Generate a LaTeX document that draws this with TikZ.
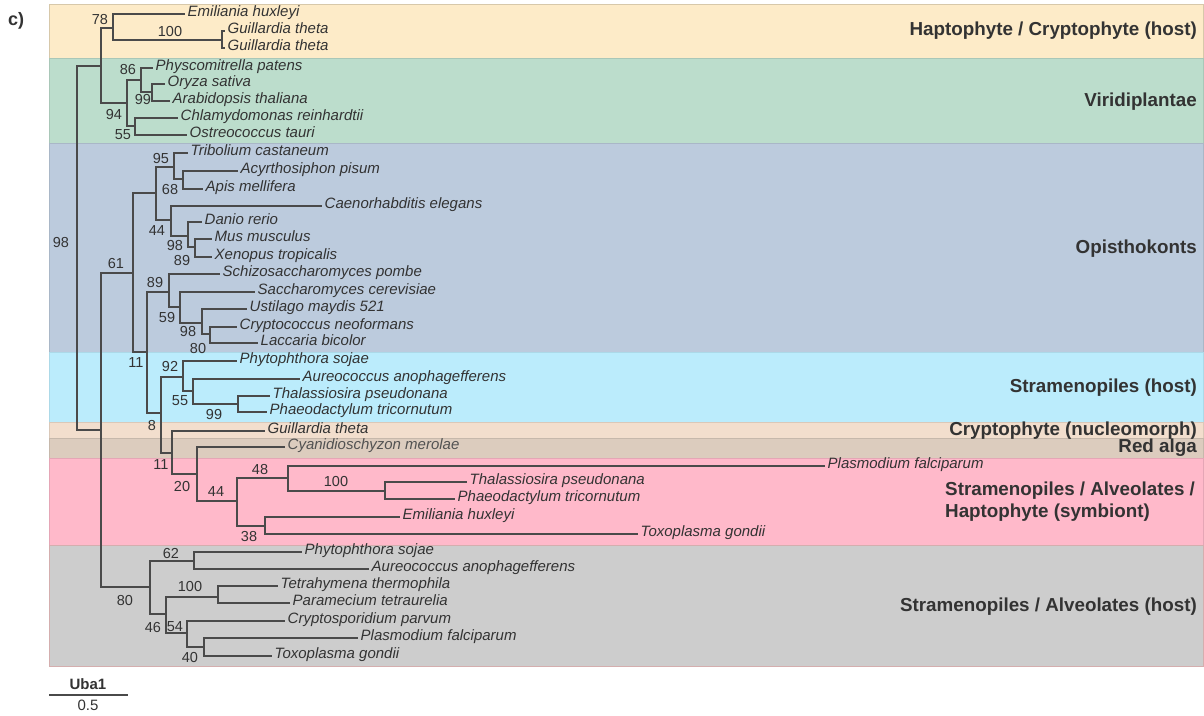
\documentclass[tikz,border=0pt]{standalone}
\usepackage{fontspec}
\setmainfont{Liberation Sans}
\definecolor{treecol}{HTML}{4A4A4A}
\definecolor{txt}{HTML}{333333}
\definecolor{cHapto}{HTML}{FDEBC8}
\definecolor{cViri}{HTML}{BCDDCC}
\definecolor{cOpis}{HTML}{BCCBDD}
\definecolor{cStram}{HTML}{BBECFC}
\definecolor{cCrypt}{HTML}{F2DECD}
\definecolor{cRed}{HTML}{DCCCBE}
\definecolor{cSymb}{HTML}{FFB9CA}
\definecolor{cHost}{HTML}{CDCDCD}
\tikzset{
  br/.style={draw=treecol, line width=1.4pt},
  leaf/.style={font=\itshape\fontsize{15}{15}\selectfont, text=txt, anchor=mid west, inner xsep=2.5pt, inner ysep=0pt},
  bs/.style={font=\fontsize{14.5}{15}\selectfont, text=txt, inner sep=0pt},
  grp/.style={font=\bfseries\fontsize{18.8}{20}\selectfont, text=txt, inner sep=0pt, anchor=base east},
  band/.style={line width=0.8pt}
}
\begin{document}
\begin{tikzpicture}[x=1pt,y=-1pt]
\useasboundingbox[fill=white] (0,0) rectangle (1204,715);
% bands
\fill[cHapto, draw=cHapto!85!black, band] (49,4) rectangle (1203,58);
\fill[cViri, draw=cViri!90!black, band] (49,58) rectangle (1203,143);
\fill[cOpis, draw=cOpis!90!black, band] (49,143) rectangle (1203,352);
\fill[cStram, draw=cStram!92!black, band] (49,352) rectangle (1203,422);
\fill[cCrypt, draw=cCrypt!90!black, band] (49,422) rectangle (1203,438);
\fill[cRed, draw=cRed!90!black, band] (49,438) rectangle (1203,458);
\fill[cSymb, draw=cSymb!90!black, band] (49,458) rectangle (1203,545);
\fill[cHost, draw=cHost!85!red, band] (49,545) rectangle (1203,666);
% group labels
\node[grp] (g1) at (1197,35.5) {Haptophyte / Cryptophyte (host)};
\node[grp] (g2) at (1197,106) {Viridiplantae};
\node[grp] (g3) at (1197,253) {Opisthokonts};
\node[grp] (g4) at (1197,392) {Stramenopiles (host)};
\node[grp] (g5) at (1197,435) {Cryptophyte (nucleomorph)};
\node[grp] (g6) at (1197,452) {Red alga};
\node[grp, anchor=base west] (g7) at (945,495) {Stramenopiles / Alveolates /};
\node[grp, anchor=base west] (g8) at (945,517) {Haptophyte (symbiont)};
\node[grp] (g9) at (1197,611) {Stramenopiles / Alveolates (host)};
\node[font=\bfseries\fontsize{18}{18}\selectfont, text=txt, anchor=base west, inner sep=0pt] (lbl) at (8,25) {c)};
% internal nodes
\coordinate (R) at (77,248);
\coordinate (A) at (101,66);
\coordinate (B) at (101,430);
\coordinate (n78) at (113,28);
\coordinate (n100a) at (222,40);
\coordinate (n94) at (127,103);
\coordinate (n86) at (141,80);
\coordinate (n99a) at (152,92);
\coordinate (n55a) at (135,126);
\coordinate (n61) at (133,273);
\coordinate (n44a) at (156,193);
\coordinate (n95) at (174,167);
\coordinate (n68) at (183,179);
\coordinate (n44b) at (171,220);
\coordinate (n98a) at (188,236);
\coordinate (n89a) at (195,247);
\coordinate (n11a) at (147,352);
\coordinate (n89b) at (169,292);
\coordinate (n59) at (180,307);
\coordinate (n98b) at (202,323);
\coordinate (n80a) at (210,334);
\coordinate (n8) at (161,413);
\coordinate (n92) at (183,377);
\coordinate (n55b) at (193,391);
\coordinate (n99b) at (238,404);
\coordinate (n11b) at (172,453);
\coordinate (n20) at (197,474);
\coordinate (n44c) at (237,501);
\coordinate (n48) at (288,478);
\coordinate (n100b) at (385,491);
\coordinate (n38) at (265,526);
\coordinate (n80) at (150,587);
\coordinate (n62) at (194,561);
\coordinate (n46) at (166,614);
\coordinate (n100c) at (218,597);
\coordinate (n54) at (187,633);
\coordinate (n40) at (204,647);
% leaves
\node[leaf] (l1) at (185,14) {Emiliania huxleyi};
\node[leaf] (l2) at (225,31) {Guillardia theta};
\node[leaf] (l3) at (225,48) {Guillardia theta};
\node[leaf] (l4) at (153,68) {Physcomitrella patens};
\node[leaf] (l5) at (165,84) {Oryza sativa};
\node[leaf] (l6) at (170,101) {Arabidopsis thaliana};
\node[leaf] (l7) at (178,118) {Chlamydomonas reinhardtii};
\node[leaf] (l8) at (187,135) {Ostreococcus tauri};
\node[leaf] (l9) at (188,153) {Tribolium castaneum};
\node[leaf] (l10) at (238,171) {Acyrthosiphon pisum};
\node[leaf] (l11) at (203,189) {Apis mellifera};
\node[leaf] (l12) at (322,206) {Caenorhabditis elegans};
\node[leaf] (l13) at (202,222) {Danio rerio};
\node[leaf] (l14) at (212,239) {Mus musculus};
\node[leaf] (l15) at (212,257) {Xenopus tropicalis};
\node[leaf] (l16) at (220,274) {Schizosaccharomyces pombe};
\node[leaf] (l17) at (255,292) {Saccharomyces cerevisiae};
\node[leaf] (l18) at (247,309) {Ustilago maydis 521};
\node[leaf] (l19) at (237,327) {Cryptococcus neoformans};
\node[leaf] (l20) at (258,343) {Laccaria bicolor};
\node[leaf] (l21) at (237,361) {Phytophthora sojae};
\node[leaf] (l22) at (300,379) {Aureococcus anophagefferens};
\node[leaf] (l23) at (270,396) {Thalassiosira pseudonana};
\node[leaf] (l24) at (267,412) {Phaeodactylum tricornutum};
\node[leaf] (l25) at (265,431) {Guillardia theta};
\node[leaf, text=txt!85] (l26) at (285,447) {Cyanidioschyzon merolae};
\node[leaf] (l27) at (825,466) {Plasmodium falciparum};
\node[leaf] (l28) at (467,482) {Thalassiosira pseudonana};
\node[leaf] (l29) at (455,499) {Phaeodactylum tricornutum};
\node[leaf] (l30) at (400,517) {Emiliania huxleyi};
\node[leaf] (l31) at (638,534) {Toxoplasma gondii};
\node[leaf] (l32) at (302,552) {Phytophthora sojae};
\node[leaf] (l33) at (369,569) {Aureococcus anophagefferens};
\node[leaf] (l34) at (278,586) {Tetrahymena thermophila};
\node[leaf] (l35) at (290,603) {Paramecium tetraurelia};
\node[leaf] (l36) at (285,621) {Cryptosporidium parvum};
\node[leaf] (l37) at (358,638) {Plasmodium falciparum};
\node[leaf] (l38) at (272,656) {Toxoplasma gondii};
% branches
\draw[br] (R) |- (A);  \draw[br] (R) |- (B);
\draw[br] (A) |- (n78); \draw[br] (A) |- (n94);
\draw[br] (n78) |- (l1.mid west); \draw[br] (n78) |- (n100a);
\draw[br] (n100a) |- (l2.mid west); \draw[br] (n100a) |- (l3.mid west);
\draw[br] (n94) |- (n86); \draw[br] (n94) |- (n55a);
\draw[br] (n86) |- (l4.mid west); \draw[br] (n86) |- (n99a);
\draw[br] (n99a) |- (l5.mid west); \draw[br] (n99a) |- (l6.mid west);
\draw[br] (n55a) |- (l7.mid west); \draw[br] (n55a) |- (l8.mid west);
\draw[br] (B) |- (n61); \draw[br] (B) |- (n80);
\draw[br] (n61) |- (n44a); \draw[br] (n61) |- (n11a);
\draw[br] (n44a) |- (n95); \draw[br] (n44a) |- (n44b);
\draw[br] (n95) |- (l9.mid west); \draw[br] (n95) |- (n68);
\draw[br] (n68) |- (l10.mid west); \draw[br] (n68) |- (l11.mid west);
\draw[br, line width=2.6pt] (n68 |- l10.mid west) -- (l10.mid west);
\draw[br] (n44b) |- (l12.mid west); \draw[br] (n44b) |- (n98a);
\draw[br] (n98a) |- (l13.mid west); \draw[br] (n98a) |- (n89a);
\draw[br] (n89a) |- (l14.mid west); \draw[br] (n89a) |- (l15.mid west);
\draw[br] (n11a) |- (n89b); \draw[br] (n11a) |- (n8);
\draw[br] (n89b) |- (l16.mid west); \draw[br] (n89b) |- (n59);
\draw[br] (n59) |- (l17.mid west); \draw[br] (n59) |- (n98b);
\draw[br] (n98b) |- (l18.mid west); \draw[br] (n98b) |- (n80a);
\draw[br] (n80a) |- (l19.mid west); \draw[br] (n80a) |- (l20.mid west);
\draw[br] (n8) |- (n92); \draw[br] (n8) |- (n11b);
\draw[br] (n92) |- (l21.mid west); \draw[br] (n92) |- (n55b);
\draw[br] (n55b) |- (l22.mid west); \draw[br] (n55b) |- (n99b);
\draw[br] (n99b) |- (l23.mid west); \draw[br] (n99b) |- (l24.mid west);
\draw[br] (n11b) |- (l25.mid west); \draw[br] (n11b) |- (n20);
\draw[br] (n20) |- (l26.mid west); \draw[br] (n20) |- (n44c);
\draw[br] (n44c) |- (n48); \draw[br] (n44c) |- (n38);
\draw[br] (n48) |- (l27.mid west); \draw[br] (n48) |- (n100b);
\draw[br] (n100b) |- (l28.mid west); \draw[br] (n100b) |- (l29.mid west);
\draw[br] (n38) |- (l30.mid west); \draw[br] (n38) |- (l31.mid west);
\draw[br] (n80) |- (n62); \draw[br] (n80) |- (n46);
\draw[br] (n62) |- (l32.mid west); \draw[br] (n62) |- (l33.mid west);
\draw[br] (n46) |- (n100c); \draw[br] (n46) |- (n54);
\draw[br] (n100c) |- (l34.mid west); \draw[br] (n100c) |- (l35.mid west);
\draw[br] (n54) |- (l36.mid west); \draw[br] (n54) |- (n40);
\draw[br] (n40) |- (l37.mid west); \draw[br] (n40) |- (l38.mid west);
% bootstrap values
\node[bs] (b1) at (100,20) {78};
\node[bs] (b2) at (170,32) {100};
\node[bs] (b3) at (128,70) {86};
\node[bs] (b4) at (143,100) {99};
\node[bs] (b5) at (114,115) {94};
\node[bs] (b6) at (123,135) {55};
\node[bs] (b7) at (61,243) {98};
\node[bs] (b8) at (161,159) {95};
\node[bs] (b9) at (170,190) {68};
\node[bs] (b10) at (157,231) {44};
\node[bs] (b11) at (175,246) {98};
\node[bs] (b12) at (182,261) {89};
\node[bs] (b13) at (116,264) {61};
\node[bs] (b14) at (155,283) {89};
\node[bs] (b15) at (167,318) {59};
\node[bs] (b16) at (188,332) {98};
\node[bs] (b17) at (198,349) {80};
\node[bs] (b18) at (136,363) {11};
\node[bs] (b19) at (170,367) {92};
\node[bs] (b20) at (180,401) {55};
\node[bs] (b21) at (214,415) {99};
\node[bs] (b22) at (152,426) {8};
\node[bs] (b23) at (161,465) {11};
\node[bs] (b24) at (182,487) {20};
\node[bs] (b25) at (216,492) {44};
\node[bs] (b26) at (260,470) {48};
\node[bs] (b27) at (336,482) {100};
\node[bs] (b28) at (249,536) {38};
\node[bs] (b29) at (171,553) {62};
\node[bs] (b30) at (125,600) {80};
\node[bs] (b31) at (190,586) {100};
\node[bs] (b32) at (153,627) {46};
\node[bs] (b33) at (175,627) {54};
\node[bs] (b34) at (190,657) {40};
% scale bar
\coordinate (s1) at (49,695);
\coordinate (s2) at (128,695);
\draw[draw=treecol, line width=1.4pt] (s1) -- (s2);
\node[font=\bfseries\fontsize{15}{15}\selectfont, text=txt, anchor=base, inner sep=0pt] (sb1) at (88,689) {Uba1};
\node[font=\fontsize{15}{15}\selectfont, text=txt, anchor=base, inner sep=0pt] (sb2) at (88,710) {0.5};
\end{tikzpicture}
\end{document}
